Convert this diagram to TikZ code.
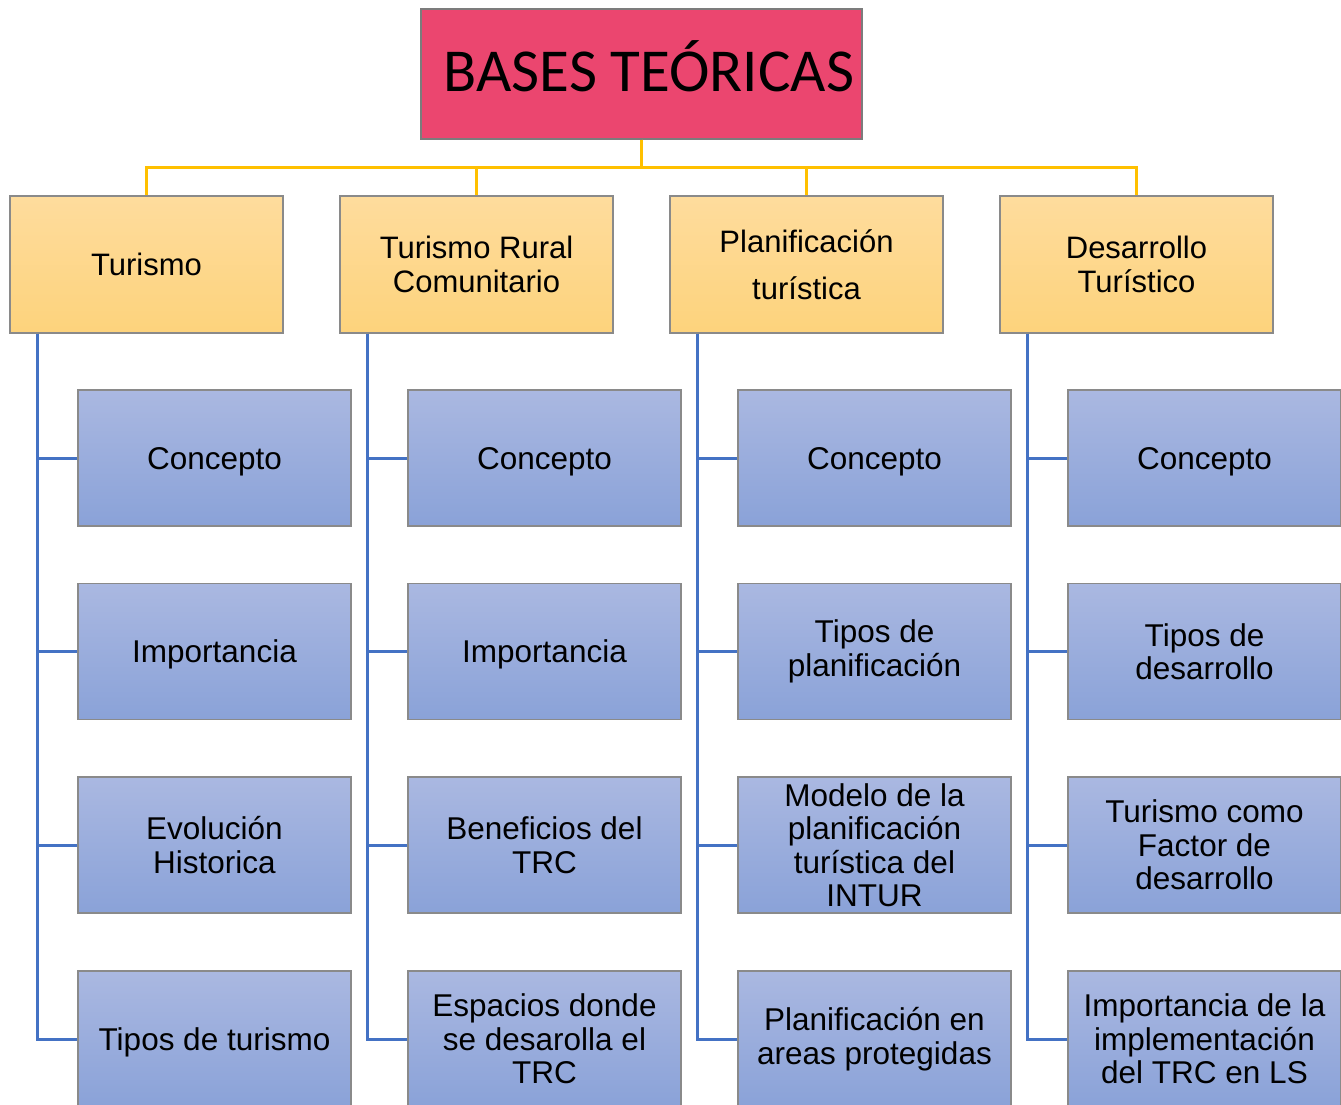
\documentclass[tikz,border=0pt]{standalone}
\usepackage{fontspec}
\setmainfont{Liberation Sans}
\newfontfamily\calib{Carlito}
\definecolor{titlered}{HTML}{EB466F}
\definecolor{hdtop}{HTML}{FEDC9D}
\definecolor{hdbot}{HTML}{FDD37C}
\definecolor{chtop}{HTML}{AAB8E1}
\definecolor{chbot}{HTML}{8AA2D8}
\definecolor{yline}{HTML}{FFC000}
\definecolor{bline}{HTML}{4472C4}
\definecolor{bord}{HTML}{8A8A8A}
\tikzset{
  titlebox/.style={draw=bord!90!black, line width=1.5pt, fill=titlered, minimum width=441pt, minimum height=130pt, inner sep=0pt},
  headbox/.style={draw=bord, line width=1.5pt, top color=hdtop, bottom color=hdbot, minimum width=273pt, minimum height=137pt, align=center, inner sep=0pt, font=\fontsize{31}{33.5}\selectfont},
  childbox/.style={draw=bord, line width=1.5pt, top color=chtop, bottom color=chbot, minimum width=273pt, minimum height=136pt, align=center, inner sep=0pt, font=\fontsize{31.5}{33.5}\selectfont},
  oneline/.style={text height=23pt, text depth=1pt},
  yconn/.style={draw=yline, line width=3pt},
  bconn/.style={draw=bline, line width=3pt}
}
\begin{document}
\begin{tikzpicture}[x=1pt,y=1pt]
\useasboundingbox (0,0) rectangle (1341,-1105);
\clip (0,0) rectangle (1341,-1105);
\fill[white] (0,0) rectangle (1341,-1105);
% title
\node[titlebox] (title) at (641.5,-74) {};
\node[font=\calib\fontsize{61}{61}\selectfont, anchor=base, inner sep=0pt] (titletext) at (649,-92) {BASES TEÓRICAS};
% headers
\node[headbox] (h1) at (146.5,-264.5) {Turismo};
\node[headbox] (h2) at (476.5,-264.5) {Turismo Rural\\Comunitario};
\node[headbox, font=\fontsize{31}{47}\selectfont] (h3) at (806.5,-264.5) {Planificación\\turística};
\node[headbox] (h4) at (1136.5,-264.5) {Desarrollo\\Turístico};
% yellow connectors
\foreach \h in {h1,h2,h3,h4}{
  \draw[yconn] (title.south) -- ++(0,-28) -| (\h.north);
}
% children
\node[childbox, oneline] (c11) at (214.5,-458) {Concepto};
\node[childbox, oneline] (c12) at (214.5,-651.5) {Importancia};
\node[childbox] (c13) at (214.5,-845) {Evolución\\Historica};
\node[childbox, oneline] (c14) at (214.5,-1039) {Tipos de turismo};
\node[childbox, oneline] (c21) at (544.5,-458) {Concepto};
\node[childbox, oneline] (c22) at (544.5,-651.5) {Importancia};
\node[childbox] (c23) at (544.5,-845) {Beneficios del\\TRC};
\node[childbox] (c24) at (544.5,-1039) {Espacios donde\\se desarolla el\\TRC};
\node[childbox, oneline] (c31) at (874.5,-458) {Concepto};
\node[childbox] (c32) at (874.5,-651.5) {Tipos de\\planificación};
\node[childbox] (c33) at (874.5,-845) {Modelo de la\\planificación\\turística del\\INTUR};
\node[childbox] (c34) at (874.5,-1039) {Planificación en\\areas protegidas};
\node[childbox, oneline] (c41) at (1204.5,-458) {Concepto};
\node[childbox] (c42) at (1204.5,-651.5) {Tipos de\\desarrollo};
\node[childbox] (c43) at (1204.5,-845) {Turismo como\\Factor de\\desarrollo};
\node[childbox] (c44) at (1204.5,-1039) {Importancia de la\\implementación\\del TRC en LS};
% blue connectors
\foreach \i in {1,2,3,4}{
  \foreach \k in {1,2,3,4}{
    \draw[bconn] ([xshift=28pt]h\i.south west) |- (c\i\k.west);
  }
}
\end{tikzpicture}
\end{document}
